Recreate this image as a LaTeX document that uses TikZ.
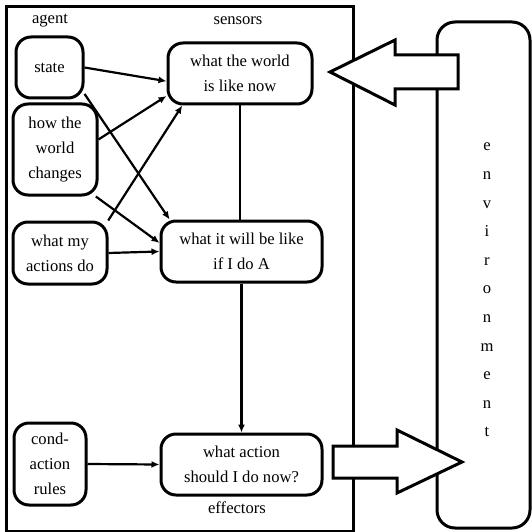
\documentclass[tikz,border=0pt]{standalone}
\usepackage{fontspec}
\setmainfont{Liberation Serif}
\usetikzlibrary{arrows.meta}
\tikzstyle{part} = [rectangle, rounded corners=15pt, line width=3pt, draw=black, fill=white, align=center, inner sep=0pt]
\tikzstyle{frame} = [rectangle, line width=3pt, draw=black, inner sep=0pt]
\tikzstyle{arrow} = [line width=2.2pt, ->, >={Latex[length=8pt,width=7pt]}]
\tikzstyle{bigarrow} = [line width=3pt, draw=black, fill=white, line join=miter]

\begin{document}
\begin{tikzpicture}[x=1pt, y=-1pt, every node/.style={font=\fontsize{16.6}{25}\selectfont}]
\useasboundingbox (0,0) rectangle (531,532);

% Agent and environment
\node (agent) [frame, minimum width=347pt, minimum height=524pt] at (179.5,269) {};
\node (env) [part, rounded corners=18pt, minimum width=93pt, minimum height=506pt] at (483.5,275) {};
\node (envlabel) [align=center, font=\fontsize{16.6}{28.6}\selectfont] at (487,290) {e\\n\\v\\i\\r\\o\\n\\m\\e\\n\\t};

\node (agentlabel) at (50,21) {agent};
\node (sensors) at (238,21) {sensors};
\node (effectors) at (237,508) {effectors};

% Left column
\node (state) [part, minimum width=67pt, minimum height=61pt] at (49.5,67.5) {state};
\node (changes) [part, minimum width=84pt, minimum height=91pt] at (55,149.5) {how the\\world\\changes};
\node (actdo) [part, minimum width=94pt, minimum height=62pt] at (60,253) {what my\\actions do};
\node (rules) [part, minimum width=72pt, minimum height=82pt] at (50,464) {cond-\\action\\rules};

% Middle column
\node (worldnow) [part, minimum width=144pt, minimum height=61pt] at (240,73.5) {what the world\\is like now};
\node (willbe) [part, minimum width=161pt, minimum height=61pt] at (241.5,251.5) {what it will be like\\if I do A};
\node (actnow) [part, minimum width=161pt, minimum height=61pt] at (241.5,464.5) {what action\\should I do now?};

% Arrows
\draw [arrow] (state.east) -- (worldnow.186);
\draw [arrow] (state.323) -- (willbe.156);
\draw [arrow] (changes.13) -- (worldnow.197);
\draw [arrow] (changes.311) -- (willbe.174);
\draw [arrow] (actdo.34) -- (worldnow.209);
\draw [arrow] (actdo.east) -- (willbe.west);
\draw [line width=2.2pt] (worldnow.south) -- (worldnow.south |- willbe.north);
\draw [arrow] (willbe.south) -- (actnow.north);
\draw [arrow] (rules.east) -- (actnow.west);

% Percepts and actions
\draw [bigarrow] (330,72) -- (395,40) -- (395,55) -- (458,55) -- (458,89) -- (395,89) -- (395,105) -- cycle;
\draw [bigarrow] (333,446) -- (397,446) -- (397,430) -- (462,462) -- (397,493) -- (397,478) -- (333,478) -- cycle;

\end{tikzpicture}
\end{document}
